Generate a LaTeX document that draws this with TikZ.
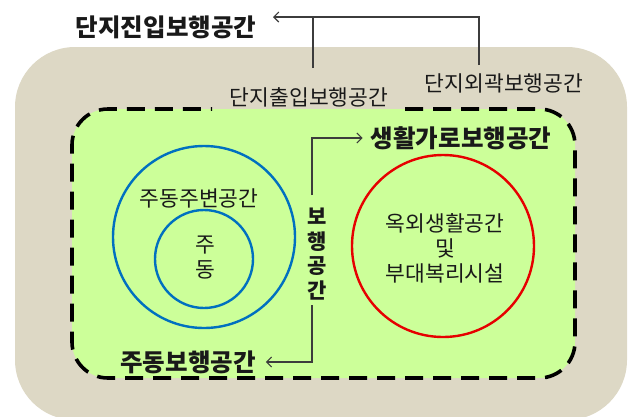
\documentclass[tikz,border=0pt]{standalone}
\usepackage{fontspec}
\setmainfont{Noto Sans CJK KR}
\usetikzlibrary{arrows.meta,calc}
\definecolor{beige}{RGB}{221,216,197}
\definecolor{lgreen}{RGB}{204,255,153}
\definecolor{cblue}{RGB}{0,112,192}
\definecolor{cred}{RGB}{230,0,0}
\definecolor{lgray}{RGB}{60,60,60}
\definecolor{txt}{RGB}{25,25,25}
\tikzset{
  lbl/.style={inner sep=0pt, text=txt, font=\fontsize{21.5}{25}\selectfont},
  blbl/.style={inner sep=0pt, text=txt, font=\bfseries\fontsize{24.5}{28}\selectfont},
  conn/.style={draw=lgray, line width=1.1pt},
  arr/.style={conn, -{Straight Barb[length=5pt,width=10pt,line width=1.1pt]}},
  ring/.style={draw, line width=2.4pt, circle}
}
\begin{document}
\begin{tikzpicture}[x=1pt,y=-1pt]
\useasboundingbox (0,0) rectangle (629,416);
% outer beige area
\fill[beige, rounded corners=60pt] (15,47) rectangle (627,420);
% inner green area
\fill[lgreen, rounded corners=36pt] (72,109) rectangle (575,378);
\draw[line width=3.6pt, dash pattern=on 18pt off 10pt, rounded corners=36pt]
  (405,109) -- (575,109) -- (575,378) -- (72,378) -- (72,109) -- (212,109);
% circles
\node[ring, draw=cblue, minimum size=182pt] (outer) at (204,237) {};
\node[ring, draw=cblue, minimum size=98pt] (inner) at (204,259) {};
\node[ring, draw=cred, minimum size=182pt] (red) at (443,246) {};
% labels
\node[blbl] (title) at (166,27) {단지진입보행공간};
\node[lbl] (outside) at (504,83) {단지외곽보행공간};
\node[lbl] (entry) at (309,97) {단지출입보행공간};
\node[blbl] (life) at (461,138) {생활가로보행공간};
\node[blbl] (dong) at (188,362) {주동보행공간};
\node[lbl] (around) at (199,198) {주동주변공간};
\node[lbl, align=center, font=\fontsize{21.5}{25}\selectfont] (core) at (205,258) {주\\동};
\node[lbl, align=center, font=\fontsize{21.5}{25}\selectfont] (facil) at (445,248) {옥외생활공간\\및\\부대복리시설};
\node[inner sep=0pt, text=txt, align=center, font=\bfseries\fontsize{21}{24.5}\selectfont] (walk) at (317,254) {보\\행\\공\\간};
% connectors
\coordinate (tt) at (273,17);
\coordinate (jn) at (313,68);
\coordinate (jo) at (479,65);
\coordinate (vtop) at (312,195);
\coordinate (vbot) at (312,305);
\draw[arr] (jo) |- (tt);
\draw[conn] (jn) -- (jn |- tt);
\draw[arr] (vtop) |- ([xshift=-8pt]life.west);
\draw[arr] (vbot) |- ([xshift=10pt]dong.east);
\end{tikzpicture}
\end{document}
